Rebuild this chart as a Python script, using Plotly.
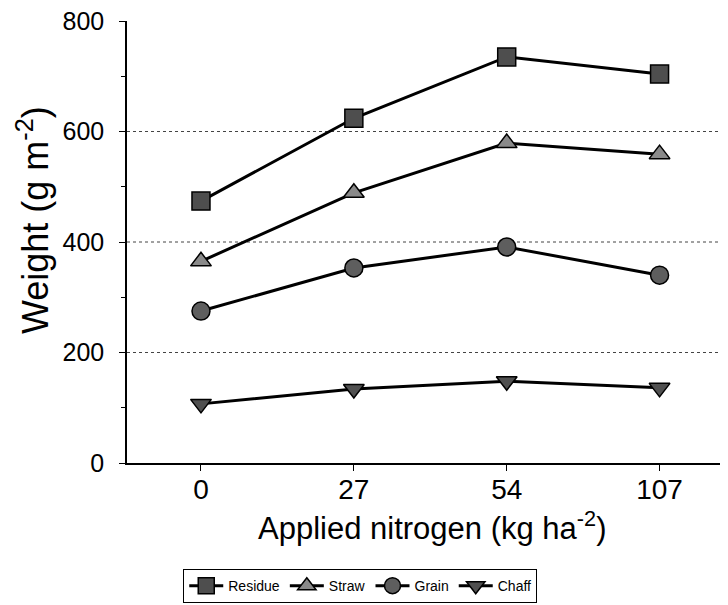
import plotly.graph_objects as go

nitrogen = ["0", "27", "54", "107"]
residue = [474, 624, 735, 704]
straw = [365, 489, 579, 559]
grain = [275, 353, 391, 340]
chaff = [107, 134, 148, 136]
y_ticks = [0, 200, 400, 600, 800]
grid_vals = [200, 400, 600]

series = [
    ("Residue", residue, "square", 18, "#4e4e4e"),
    ("Straw", straw, "triangle-up", 18, "#8a8a8a"),
    ("Grain", grain, "circle", 18, "#5e5e5e"),
    ("Chaff", chaff, "triangle-down", 18, "#505050"),
]

fig = go.Figure()
for name, vals, sym, size, col in series:
    fig.add_trace(go.Scatter(
        x=nitrogen, y=vals, name=name, mode="lines+markers",
        line=dict(color="black", width=3),
        marker=dict(symbol=sym, size=size, color=col,
                    line=dict(color="black", width=1.5)),
    ))

for g in grid_vals:
    fig.add_shape(type="line", xref="paper", x0=0, x1=1, yref="y", y0=g, y1=g,
                  line=dict(color="#444", width=1, dash="dot"), layer="below")

fig.add_annotation(text="Weight (g m<sup>-2</sup>)", xref="paper", yref="paper",
                   x=-0.154, y=0.55, xanchor="center", yanchor="middle",
                   textangle=-90, showarrow=False, font=dict(size=36))
fig.add_annotation(text="Applied nitrogen (kg ha<sup>-2</sup>)", xref="paper", yref="paper",
                   x=0.5, y=-0.142, xanchor="center", yanchor="middle",
                   showarrow=False, font=dict(size=31))

font_family = "Liberation Sans, Arial, sans-serif"
fig.update_layout(
    width=728, height=605,
    margin=dict(l=119, r=0, t=13, b=150, autoexpand=False),
    paper_bgcolor="white", plot_bgcolor="white",
    font=dict(family=font_family, color="black"),
    showlegend=True,
    legend=dict(orientation="h", x=0.383, xanchor="center", y=-0.24, yanchor="top",
                bordercolor="black", borderwidth=1, font=dict(size=14),
                itemwidth=34, tracegroupgap=0),
    xaxis=dict(
        type="category", range=[-0.484, 3.50], automargin=False,
        showline=True, linecolor="black", linewidth=1.5,
        ticks="outside", ticklen=6, tickcolor="black",
        tickfont=dict(size=28), showgrid=False, zeroline=False,
        ticklabelstandoff=-5,
    ),
    yaxis=dict(
        range=[0, 800], tickvals=y_ticks, automargin=False,
        showline=True, linecolor="black", linewidth=1.5,
        ticks="outside", ticklen=6, tickcolor="black",
        minor=dict(dtick=100, ticks="outside", ticklen=4, tickcolor="black", showgrid=False),
        tickfont=dict(size=25), showgrid=False, zeroline=False,
        ticklabelstandoff=10, ticklabeloverflow="allow",
    ),
)

fig.write_html("out.html")
